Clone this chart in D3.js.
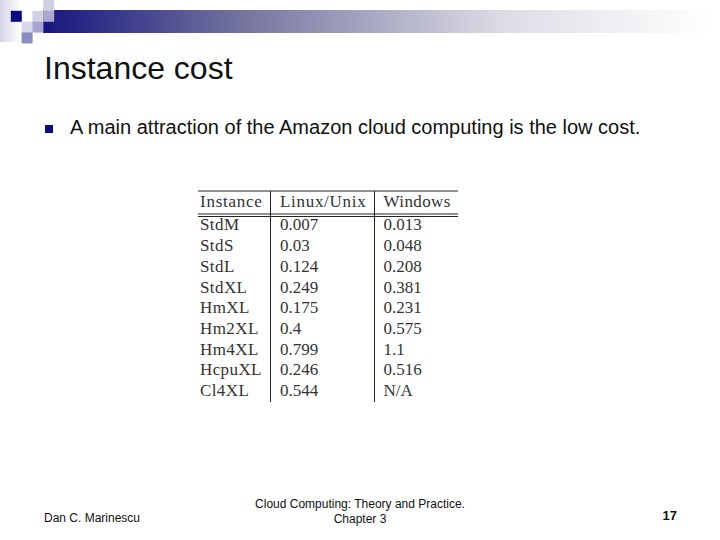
<!DOCTYPE html>
<html>
<head>
<meta charset="utf-8">
<script src="https://d3js.org/d3.v7.min.js"></script>
<style>
  html, body { margin: 0; padding: 0; background: #fff; }
  svg { display: block; }
  .sans { font-family: "Liberation Sans", Arial, sans-serif; fill: #111; }
  .cell { font-family: "Liberation Serif", serif; font-size: 17px; fill: #333; }
</style>
</head>
<body>
<div id="slide"></div>
<script>
const title = "Instance cost";
const bullet = "A main attraction of the Amazon cloud computing is the low cost.";
const footerLeft = "Dan C. Marinescu";
const footerCenter = ["Cloud Computing: Theory and Practice.", "Chapter 3"];
const pageNumber = "17";

const columns = ["Instance", "Linux/Unix", "Windows"];
const instances = ["StdM", "StdS", "StdL", "StdXL", "HmXL", "Hm2XL", "Hm4XL", "HcpuXL", "Cl4XL"];
const linuxCost = ["0.007", "0.03", "0.124", "0.249", "0.175", "0.4", "0.799", "0.246", "0.544"];
const windowsCost = ["0.013", "0.048", "0.208", "0.381", "0.231", "0.575", "1.1", "0.516", "N/A"];

const W = 720, H = 540;
const svg = d3.select("#slide").append("svg").attr("width", W).attr("height", H);
const defs = svg.append("defs");

// banner fades from navy through a greyer blue to white
const bannerGrad = defs.append("linearGradient").attr("id", "banner");
bannerGrad.append("stop").attr("offset", "0%").attr("stop-color", "#16167f");
bannerGrad.append("stop").attr("offset", "30%").attr("stop-color", "#74749f");
bannerGrad.append("stop").attr("offset", "69%").attr("stop-color", "#dcdce6");
bannerGrad.append("stop").attr("offset", "100%").attr("stop-color", "#ffffff");

const sideGrad = defs.append("linearGradient").attr("id", "side");
sideGrad.append("stop").attr("offset", "0%").attr("stop-color", "#d4d4e8");
sideGrad.append("stop").attr("offset", "100%").attr("stop-color", "#ffffff");

svg.append("rect").attr("x", 0).attr("y", 0).attr("width", 21).attr("height", 42).attr("fill", "url(#side)");
svg.append("rect").attr("x", 43).attr("y", 10).attr("width", 665).attr("height", 23).attr("fill", "url(#banner)");

// small squares in the corner: col, row on an 11px grid, colour
const squares = [
  [1, 1, "#0a0a80"],
  [3, 1, "#d2d2e6"],
  [4, 0, "#cfcfe4"],
  [4, 1, "#a9a9cf"],
  [2, 2, "#d8d8ea"],
  [3, 2, "#a6a6d0"],
  [2, 3, "#8a8abc"]
];
svg.append("g").selectAll("rect").data(squares).join("rect")
  .attr("x", (d) => d[0] * 10.8)
  .attr("y", (d) => d[1] * 10.8)
  .attr("width", 11)
  .attr("height", 11)
  .attr("fill", (d) => d[2]);

svg.append("text").attr("class", "sans").attr("x", 44).attr("y", 79)
  .attr("font-size", 32).text(title);

svg.append("rect").attr("x", 45).attr("y", 125).attr("width", 8).attr("height", 8).attr("fill", "#0a0a80");
svg.append("text").attr("class", "sans").attr("x", 70).attr("y", 134)
  .attr("font-size", 20).text(bullet);

// table
const colX = d3.scaleOrdinal().domain(columns).range([200, 280, 383.5]);
const headSpacing = d3.scaleOrdinal().domain(columns).range([0.75, 0.7, 0.4]);
const rowY = d3.scaleBand().domain(instances).range([215, 401.5]);
const table = svg.append("g");

table.selectAll(".head").data(columns).join("text")
  .attr("class", "cell head")
  .attr("x", (d) => colX(d))
  .attr("y", 207)
  .attr("letter-spacing", (d) => headSpacing(d))
  .text((d) => d);

const body = [instances, linuxCost, windowsCost];
columns.forEach((col, i) => {
  table.selectAll(".c" + i).data(body[i]).join("text")
    .attr("class", "cell c" + i)
    .attr("x", colX(col))
    .attr("y", (d, j) => rowY(instances[j]) + rowY.bandwidth() / 2 + 5)
    .attr("letter-spacing", i === 0 ? 0.4 : 0)
    .text((d) => d);
});

const rules = [191, 214, 216.5];
table.selectAll(".rule").data(rules).join("line")
  .attr("class", "rule")
  .attr("x1", 198).attr("x2", 458)
  .attr("y1", (d) => d).attr("y2", (d) => d)
  .attr("stroke", "#222").attr("stroke-width", 1);

const dividers = [270.5, 374.5];
table.selectAll(".divider").data(dividers).join("line")
  .attr("class", "divider")
  .attr("x1", (d) => d).attr("x2", (d) => d)
  .attr("y1", 191).attr("y2", 402)
  .attr("stroke", "#222").attr("stroke-width", 1);

// footer
svg.append("text").attr("class", "sans").attr("x", 44).attr("y", 522)
  .attr("font-size", 12).text(footerLeft);
svg.append("g").selectAll("text").data(footerCenter).join("text")
  .attr("class", "sans")
  .attr("x", 360)
  .attr("y", (d, i) => 508 + i * 14.5)
  .attr("text-anchor", "middle")
  .attr("font-size", 12)
  .text((d) => d);
svg.append("text").attr("class", "sans").attr("x", 677).attr("y", 520)
  .attr("text-anchor", "end").attr("font-size", 13).attr("font-weight", "bold").text(pageNumber);
</script>
</body>
</html>
